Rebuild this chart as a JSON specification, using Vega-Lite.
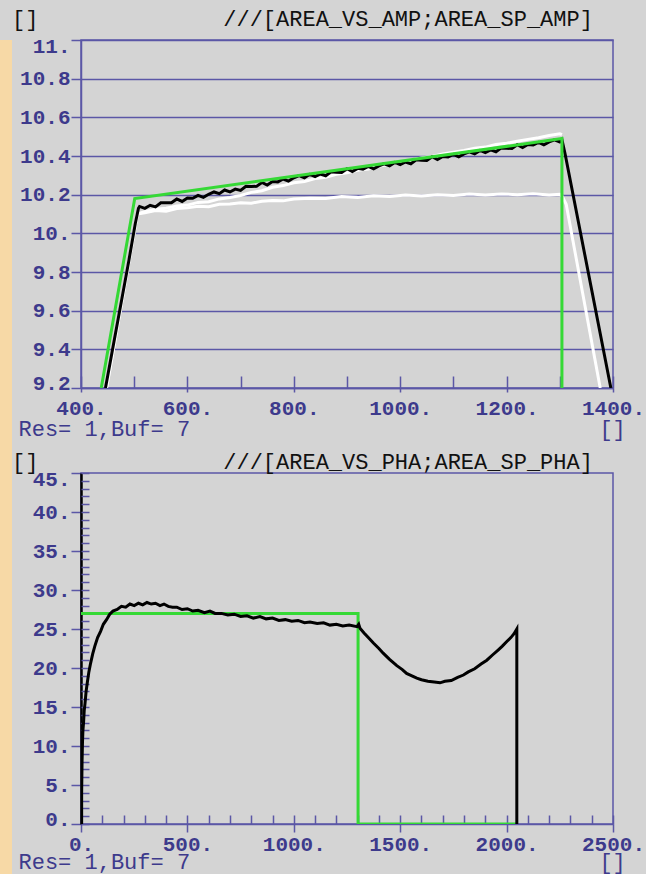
{
  "$schema": "https://vega.github.io/schema/vega-lite/v6.json",
  "background": "#d4d4d4",
  "padding": {"left": 0, "top": 7, "right": 0, "bottom": 0},
  "bounds": "flush",
  "spacing": 69,
  "config": {
    "view": {"stroke": "#5b57a6", "strokeWidth": 1.5},
    "axis": {
      "labelFont": "Liberation Mono", "labelFontSize": 21, "labelColor": "#3d3a8c", "labelFontWeight": "bold",
      "tickColor": "#5b57a6", "domainColor": "#5b57a6", "tickWidth": 1.5, "domainWidth": 1.5,
      "gridColor": "#5b57a6", "gridWidth": 1.5, "gridOpacity": 1,
      "titleFont": "Liberation Mono", "titleFontSize": 22, "titleColor": "#3d3a8c", "titleFontWeight": "normal",
      "labelOverlap": false
    },
    "title": {"font": "Liberation Mono", "fontSize": 22, "color": "#111111", "fontWeight": "normal", "anchor": "start", "frame": "group", "baseline": "middle"}
  },
  "datasets": {
    "amp_sp": [{"x":438,"y":9.2},{"x":501,"y":10.18},{"x":1304,"y":10.49},{"x":1304,"y":9.2}],
    "amp_vs": [{"x":446,"y":9.2},{"x":470,"y":9.56},{"x":490,"y":9.86},{"x":502,"y":10.05},{"x":508,"y":10.13},
      {"x":510,"y":10.139},{"x":520,"y":10.129},{"x":530,"y":10.145},{"x":540,"y":10.137},{"x":550,"y":10.158},{"x":560,"y":10.158},{"x":570,"y":10.158},{"x":580,"y":10.178},{"x":590,"y":10.165},{"x":600,"y":10.183},
      {"x":610,"y":10.181},{"x":620,"y":10.196},{"x":630,"y":10.186},{"x":640,"y":10.202},{"x":650,"y":10.214},{"x":660,"y":10.205},{"x":670,"y":10.224},{"x":680,"y":10.214},{"x":690,"y":10.229},{"x":700,"y":10.222},
      {"x":710,"y":10.243},{"x":720,"y":10.242},{"x":730,"y":10.243},{"x":740,"y":10.263},{"x":750,"y":10.25},{"x":760,"y":10.268},{"x":770,"y":10.266},{"x":780,"y":10.281},{"x":790,"y":10.27},{"x":800,"y":10.287},
      {"x":810,"y":10.298},{"x":820,"y":10.287},{"x":830,"y":10.305},{"x":840,"y":10.294},{"x":850,"y":10.307},{"x":860,"y":10.298},{"x":870,"y":10.318},{"x":880,"y":10.316},{"x":890,"y":10.315},{"x":900,"y":10.334},
      {"x":910,"y":10.32},{"x":920,"y":10.336},{"x":930,"y":10.332},{"x":940,"y":10.346},{"x":950,"y":10.334},{"x":960,"y":10.349},{"x":970,"y":10.36},{"x":980,"y":10.349},{"x":990,"y":10.367},{"x":1000,"y":10.356},
      {"x":1010,"y":10.369},{"x":1020,"y":10.36},{"x":1030,"y":10.38},{"x":1040,"y":10.378},{"x":1050,"y":10.377},{"x":1060,"y":10.396},{"x":1070,"y":10.382},{"x":1080,"y":10.398},{"x":1090,"y":10.395},{"x":1100,"y":10.408},
      {"x":1110,"y":10.396},{"x":1120,"y":10.411},{"x":1130,"y":10.422},{"x":1140,"y":10.411},{"x":1150,"y":10.429},{"x":1160,"y":10.418},{"x":1170,"y":10.432},{"x":1180,"y":10.422},{"x":1190,"y":10.442},{"x":1200,"y":10.44},
      {"x":1210,"y":10.439},{"x":1220,"y":10.458},{"x":1230,"y":10.444},{"x":1240,"y":10.46},{"x":1250,"y":10.457},{"x":1260,"y":10.47},{"x":1270,"y":10.458},{"x":1280,"y":10.473},{"x":1290,"y":10.484},{"x":1300,"y":10.473},
      {"x":1304,"y":10.485},{"x":1310,"y":10.41},{"x":1396,"y":9.2}],
    "amp_whi": [{"x":448,"y":9.2},{"x":506,"y":10.1},{"x":520,"y":10.112},{"x":540,"y":10.125},{"x":560,"y":10.13},{"x":580,"y":10.142},{"x":600,"y":10.146},{"x":620,"y":10.16},{"x":640,"y":10.163},{"x":660,"y":10.178},
      {"x":680,"y":10.185},{"x":700,"y":10.196},{"x":720,"y":10.212},{"x":740,"y":10.22},{"x":760,"y":10.238},{"x":780,"y":10.247},{"x":800,"y":10.262},{"x":820,"y":10.268},{"x":840,"y":10.283},{"x":860,"y":10.29},
      {"x":880,"y":10.305},{"x":900,"y":10.313},{"x":920,"y":10.326},{"x":940,"y":10.333},{"x":960,"y":10.348},{"x":980,"y":10.356},{"x":1000,"y":10.369},{"x":1020,"y":10.378},{"x":1040,"y":10.39},{"x":1060,"y":10.398},
      {"x":1080,"y":10.41},{"x":1100,"y":10.42},{"x":1120,"y":10.428},{"x":1140,"y":10.44},{"x":1160,"y":10.446},{"x":1180,"y":10.459},{"x":1200,"y":10.466},{"x":1220,"y":10.476},{"x":1240,"y":10.486},{"x":1260,"y":10.494},
      {"x":1280,"y":10.506},{"x":1300,"y":10.515},{"x":1304,"y":10.51}],
    "amp_wlo": [{"x":448,"y":9.2},{"x":506,"y":10.1},{"x":520,"y":10.106},{"x":540,"y":10.118},{"x":560,"y":10.114},{"x":580,"y":10.128},{"x":600,"y":10.132},{"x":620,"y":10.14},{"x":640,"y":10.138},{"x":660,"y":10.15},
      {"x":680,"y":10.152},{"x":700,"y":10.158},{"x":720,"y":10.156},{"x":740,"y":10.166},{"x":760,"y":10.17},{"x":780,"y":10.168},{"x":800,"y":10.178},{"x":830,"y":10.182},{"x":860,"y":10.18},{"x":890,"y":10.19},
      {"x":920,"y":10.186},{"x":950,"y":10.194},{"x":980,"y":10.19},{"x":1010,"y":10.198},{"x":1040,"y":10.193},{"x":1070,"y":10.2},{"x":1100,"y":10.196},{"x":1130,"y":10.203},{"x":1160,"y":10.198},{"x":1190,"y":10.204},
      {"x":1220,"y":10.2},{"x":1250,"y":10.205},{"x":1280,"y":10.198},{"x":1300,"y":10.202},{"x":1305,"y":10.19},{"x":1312,"y":10.15},{"x":1376,"y":9.2}],
    "pha_sp": [{"x":0,"y":27},{"x":1302,"y":27},{"x":1302,"y":0},{"x":2050,"y":0}],
    "pha_vs": [{"x":3,"y":0},{"x":3,"y":4},{"x":5,"y":8},{"x":7,"y":10.5},{"x":9,"y":12},{"x":12,"y":13},{"x":15,"y":14.5},{"x":19,"y":15.5},{"x":24,"y":17},{"x":30,"y":18.2},
      {"x":37,"y":19.5},{"x":45,"y":20.6},{"x":55,"y":21.8},{"x":65,"y":22.8},{"x":78,"y":23.9},{"x":92,"y":24.7},{"x":105,"y":25.6},{"x":120,"y":26.2},{"x":135,"y":26.9},{"x":150,"y":27.3},
      {"x":170,"y":27.5},{"x":190,"y":27.9},{"x":210,"y":27.8},{"x":230,"y":28.2},{"x":250,"y":28.0},{"x":270,"y":28.3},{"x":290,"y":28.1},{"x":310,"y":28.4},{"x":330,"y":28.2},{"x":350,"y":28.3},
      {"x":371,"y":28.0},{"x":390,"y":28.2},{"x":410,"y":27.9},{"x":430,"y":27.8},{"x":450,"y":27.8},{"x":475,"y":27.5},{"x":500,"y":27.6},{"x":525,"y":27.3},{"x":550,"y":27.4},{"x":580,"y":27.1},
      {"x":606,"y":27.3},{"x":630,"y":27.0},{"x":660,"y":27.0},{"x":690,"y":26.8},{"x":720,"y":26.9},{"x":750,"y":26.6},{"x":780,"y":26.7},{"x":810,"y":26.4},{"x":841,"y":26.6},{"x":870,"y":26.3},
      {"x":900,"y":26.4},{"x":930,"y":26.1},{"x":960,"y":26.2},{"x":990,"y":26.0},{"x":1020,"y":26.1},{"x":1050,"y":25.8},{"x":1076,"y":25.9},{"x":1110,"y":25.7},{"x":1140,"y":25.8},{"x":1170,"y":25.5},
      {"x":1200,"y":25.6},{"x":1230,"y":25.4},{"x":1260,"y":25.5},{"x":1297,"y":25.3},{"x":1305,"y":25.6},{"x":1311,"y":25.1},{"x":1330,"y":24.5},{"x":1350,"y":23.9},{"x":1374,"y":23.2},{"x":1400,"y":22.5},
      {"x":1420,"y":21.9},{"x":1450,"y":21.1},{"x":1484,"y":20.3},{"x":1510,"y":19.8},{"x":1530,"y":19.3},{"x":1555,"y":19.0},{"x":1578,"y":18.7},{"x":1600,"y":18.5},{"x":1630,"y":18.3},{"x":1660,"y":18.2},
      {"x":1687,"y":18.1},{"x":1710,"y":18.3},{"x":1740,"y":18.4},{"x":1770,"y":18.8},{"x":1797,"y":19.1},{"x":1820,"y":19.5},{"x":1850,"y":19.9},{"x":1880,"y":20.5},{"x":1907,"y":21.0},{"x":1935,"y":21.7},
      {"x":1960,"y":22.3},{"x":1980,"y":22.8},{"x":2001,"y":23.4},{"x":2020,"y":23.9},{"x":2035,"y":24.4},{"x":2048,"y":25.0},{"x":2048,"y":0}]
  },
  "hconcat": [
    {
      "width": 12,
      "height": 834,
      "view": {"fill": "#f7d9a6", "stroke": null},
      "data": {"values": []},
      "mark": "rect",
      "encoding": {}
    },
    {
      "bounds": "flush",
      "spacing": 85,
      "vconcat": [
        {
          "width": 532,
          "height": 348,
          "title": {"text": "[]\u00a0\u00a0\u00a0\u00a0\u00a0\u00a0\u00a0\u00a0\u00a0\u00a0\u00a0\u00a0\u00a0\u00a0///[AREA_VS_AMP;AREA_SP_AMP]", "dx": -69, "offset": 4},
          "resolve": {"axis": {"x": "independent", "y": "independent"}},
          "layer": [
            {
              "data": {"name": "amp_wlo"},
              "mark": {"type": "line", "color": "#ffffff", "strokeWidth": 3, "clip": true},
              "encoding": {
                "x": {"field": "x", "type": "quantitative", "scale": {"domain": [400, 1400], "nice": false, "zero": false},
                  "axis": {"orient": "bottom", "values": [400, 600, 800, 1000, 1200, 1400], "labelExpr": "datum.value + '.'", "tickSize": 4, "labelPadding": 5, "labelFlush": false, "grid": false,
                    "title": "Res= 1,Buf= 7\u00a0\u00a0\u00a0\u00a0\u00a0\u00a0\u00a0\u00a0\u00a0\u00a0\u00a0\u00a0\u00a0\u00a0\u00a0\u00a0\u00a0\u00a0\u00a0\u00a0\u00a0\u00a0\u00a0\u00a0\u00a0\u00a0\u00a0\u00a0\u00a0\u00a0\u00a0[]",
                    "titleX": -63, "titleY": 40, "titleAlign": "left", "titleAnchor": "start", "titleBaseline": "middle"}},
                "y": {"field": "y", "type": "quantitative", "scale": {"domain": [9.2, 11], "nice": false, "zero": false},
                  "axis": {"orient": "left", "values": [9.2, 9.4, 9.6, 9.8, 10, 10.2, 10.4, 10.6, 10.8, 11], "labelExpr": "datum.value % 1 == 0 ? format(datum.value, 'd') + '.' : format(datum.value, '.1f')", "tickSize": 10, "labelPadding": 1, "grid": true, "title": null, "labelFlush": true, "labelFlushOffset": 5}},
                "order": {"value": null}
              }
            },
            {
              "data": {"name": "amp_whi"},
              "mark": {"type": "line", "color": "#ffffff", "strokeWidth": 3, "clip": true},
              "encoding": {
                "x": {"field": "x", "type": "quantitative",
                  "axis": {"orient": "bottom", "values": [400, 500, 600, 700, 800, 900, 1000, 1100, 1200, 1300, 1400], "labels": false, "tickSize": -12, "domain": false, "grid": false, "title": null}},
                "y": {"field": "y", "type": "quantitative", "axis": null},
                "order": {"value": null}
              }
            },
            {
              "data": {"name": "amp_vs"},
              "mark": {"type": "line", "color": "#000000", "strokeWidth": 3, "clip": true},
              "encoding": {
                "x": {"field": "x", "type": "quantitative", "axis": null},
                "y": {"field": "y", "type": "quantitative", "axis": null},
                "order": {"value": null}
              }
            },
            {
              "data": {"name": "amp_sp"},
              "mark": {"type": "line", "color": "#35d935", "strokeWidth": 3, "clip": true},
              "encoding": {
                "x": {"field": "x", "type": "quantitative", "axis": null},
                "y": {"field": "y", "type": "quantitative", "axis": null},
                "order": {"value": null}
              }
            }
          ]
        },
        {
          "width": 532,
          "height": 351,
          "title": {"text": "[]\u00a0\u00a0\u00a0\u00a0\u00a0\u00a0\u00a0\u00a0\u00a0\u00a0\u00a0\u00a0\u00a0\u00a0///[AREA_VS_PHA;AREA_SP_PHA]", "dx": -69, "offset": -6},
          "resolve": {"axis": {"x": "independent", "y": "independent"}},
          "layer": [
            {
              "data": {"name": "pha_sp"},
              "mark": {"type": "line", "color": "#35d935", "strokeWidth": 3, "clip": true},
              "encoding": {
                "x": {"field": "x", "type": "quantitative", "scale": {"domain": [0, 2500], "nice": false, "zero": false},
                  "axis": {"orient": "bottom", "values": [0, 500, 1000, 1500, 2000, 2500], "labelExpr": "datum.value + '.'", "tickSize": 8, "labelPadding": 1.5, "labelFlush": false, "grid": false,
                    "title": "Res= 1,Buf= 7\u00a0\u00a0\u00a0\u00a0\u00a0\u00a0\u00a0\u00a0\u00a0\u00a0\u00a0\u00a0\u00a0\u00a0\u00a0\u00a0\u00a0\u00a0\u00a0\u00a0\u00a0\u00a0\u00a0\u00a0\u00a0\u00a0\u00a0\u00a0\u00a0\u00a0\u00a0[]",
                    "titleX": -63, "titleY": 37, "titleAlign": "left", "titleAnchor": "start", "titleBaseline": "middle"}},
                "y": {"field": "y", "type": "quantitative", "scale": {"domain": [0, 45], "nice": false, "zero": false},
                  "axis": {"orient": "left", "values": [0, 5, 10, 15, 20, 25, 30, 35, 40, 45], "labelExpr": "datum.value + '.'", "tickSize": 10, "labelPadding": 1, "grid": false, "title": null, "labelFlush": true, "labelFlushOffset": 5, "domainColor": "#000000", "domainWidth": 2.5}},
                "order": {"value": null}
              }
            },
            {
              "data": {"name": "pha_vs"},
              "mark": {"type": "line", "color": "#000000", "strokeWidth": 3, "clip": true},
              "encoding": {
                "x": {"field": "x", "type": "quantitative",
                  "axis": {"orient": "bottom", "values": [0, 100, 200, 300, 400, 500, 600, 700, 800, 900, 1000, 1100, 1200, 1300, 1400, 1500, 1600, 1700, 1800, 1900, 2000, 2100, 2200, 2300, 2400, 2500], "labels": false, "tickSize": -9, "domain": false, "grid": false, "title": null}},
                "y": {"field": "y", "type": "quantitative",
                  "axis": {"orient": "left", "values": [0,1,2,3,4,5,6,7,8,9,10,11,12,13,14,15,16,17,18,19,20,21,22,23,24,25,26,27,28,29,30,31,32,33,34,35,36,37,38,39,40,41,42,43,44,45], "labels": false, "tickSize": -8, "domain": false, "grid": false, "title": null}},
                "order": {"value": null}
              }
            }
          ]
        }
      ]
    }
  ]
}
